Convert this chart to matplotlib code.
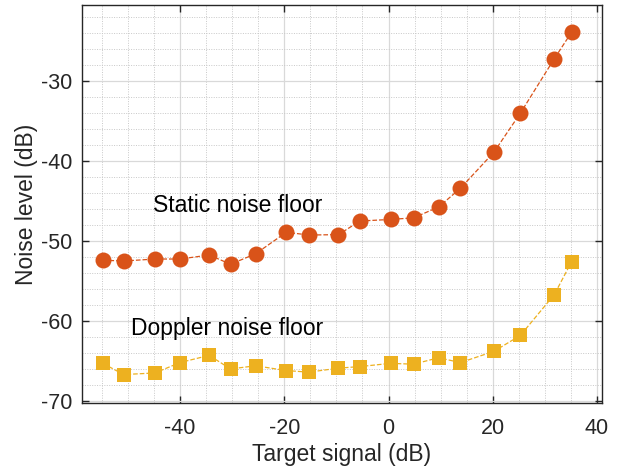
import matplotlib
matplotlib.use("Agg")
import matplotlib.pyplot as plt
from matplotlib.ticker import MultipleLocator

plt.rcParams['font.family'] = ['Liberation Sans', 'DejaVu Sans']
plt.rcParams['axes.unicode_minus'] = False

target_db = [-54.8, -50.8, -44.8, -40.0, -34.4, -30.3, -25.5, -19.6, -15.3, -9.6,
             -5.5, 0.4, 4.8, 9.6, 13.8, 20.2, 25.3, 31.8, 35.1]
static_floor = [-52.4, -52.5, -52.25, -52.25, -51.75, -52.9, -51.6, -48.9, -49.25, -49.2,
                -47.5, -47.3, -47.1, -45.75, -43.4, -38.9, -34.0, -27.2, -23.9]
doppler_floor = [-65.3, -66.7, -66.5, -65.2, -64.3, -66.0, -65.6, -66.2, -66.4, -65.9,
                 -65.7, -65.3, -65.4, -64.6, -65.2, -63.8, -61.8, -56.7, -52.6]

orange = '#D95319'
yellow = '#EDB120'

fig = plt.figure(figsize=(6.21, 4.68), dpi=100)
ax = fig.add_axes([0.132, 0.139, 0.837, 0.850])

ax.plot(target_db, static_floor, '--', color=orange, lw=0.9, marker='o',
        markersize=11.5, markeredgewidth=0, zorder=3)
ax.plot(target_db, doppler_floor, '--', color=yellow, lw=0.9, marker='s',
        markersize=10, markeredgewidth=0, zorder=3)

ax.text(-45.2, -45.5, 'Static noise floor', fontsize=16.5, va='center', ha='left')
ax.text(-49.4, -61.0, 'Doppler noise floor', fontsize=16.5, va='center', ha='left')

ax.set_xlim(-58.8, 40.9)
ax.set_ylim(-70.25, -20.5)
ax.set_xticks([-40, -20, 0, 20, 40])
ax.set_yticks([-70, -60, -50, -40, -30])
ax.xaxis.set_minor_locator(MultipleLocator(5))
ax.yaxis.set_minor_locator(MultipleLocator(2))

ax.grid(True, which='major', color='#d9d9d9', lw=0.9)
ax.grid(True, which='minor', color='#c8c8c8', lw=0.7, ls=(0, (1, 1.5)))
ax.set_axisbelow(True)

ax.tick_params(which='major', direction='in', length=5, width=1, top=True, right=True,
               labelsize=15.5, colors='#262626')
ax.tick_params(axis='x', which='major', pad=11)
ax.tick_params(axis='y', which='major', pad=7)
ax.tick_params(which='minor', length=0)
for s in ax.spines.values():
    s.set_color('#262626')
    s.set_linewidth(1)

ax.set_xlabel('Target signal (dB)', fontsize=16.5, color='#262626', labelpad=3)
ax.set_ylabel('Noise level (dB)', fontsize=16.5, color='#262626', labelpad=2)

fig.savefig('out.png', dpi=100)
